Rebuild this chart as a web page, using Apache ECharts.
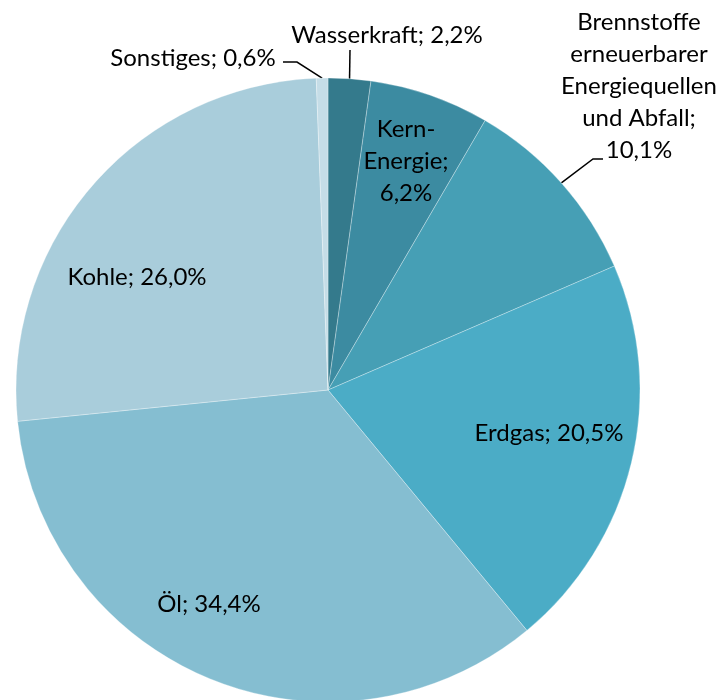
<!DOCTYPE html>
<html>
<head>
<meta charset="utf-8">
<script src="https://cdn.jsdelivr.net/npm/echarts@6/dist/echarts.min.js"></script>
<style>html,body{margin:0;padding:0;background:#fff}#c{width:723px;height:700px}</style>
</head>
<body>
<div id="c"></div>
<script>
const categories = ['Wasserkraft', 'Kern-Energie', 'Brennstoffe erneuerbarer Energiequellen und Abfall', 'Erdgas', 'Öl', 'Kohle', 'Sonstiges'];
const values = [2.2, 6.2, 10.1, 20.5, 34.4, 26.0, 0.6];
const labelTexts = [
  'Wasserkraft; 2,2%',
  'Kern-\nEnergie;\n6,2%',
  'Brennstoffe\nerneuerbarer\nEnergiequellen\nund Abfall;\n10,1%',
  'Erdgas; 20,5%',
  'Öl; 34,4%',
  'Kohle; 26,0%',
  'Sonstiges; 0,6%'
];
const colors = ['#347A8C', '#3C8BA1', '#469FB5', '#4BACC6', '#85BED1', '#A9CDDB', '#C5DDE7'];

// label layout (text placement only)
const labelLayoutCfg = [
  {x: 387, y: 35, outside: true, line: [[350, 50]]},
  {x: 406, y: 161},
  {x: 639, y: 86, outside: true, line: [[593, 159], [603, 159]]},
  {x: 549, y: 433},
  {x: 209, y: 604},
  {x: 137, y: 277},
  {x: 193, y: 58, outside: true, line: [[297, 62], [283, 62]]}
];

const chart = echarts.init(document.getElementById('c'), null, {renderer: 'canvas'});
chart.setOption({
  animation: false,
  series: [{
    type: 'pie',
    center: [328, 390],
    radius: 312,
    startAngle: 90,
    clockwise: true,
    avoidLabelOverlap: false,
    itemStyle: {borderColor: 'rgba(255,255,255,0.6)', borderWidth: 0.5},
    label: {
      show: true,
      position: 'outside',
      color: '#000',
      fontFamily: 'Lato',
      fontSize: 24,
      lineHeight: 32,
      align: 'center',
      formatter: p => labelTexts[p.dataIndex]
    },
    labelLine: {show: true, length: 20, length2: 10, smooth: false, lineStyle: {color: '#000', width: 1.5}},
    labelLayout: function (params) {
      const c = labelLayoutCfg[params.dataIndex];
      const res = {x: c.x, y: c.y, align: 'center', verticalAlign: 'middle'};
      if (c.outside && params.labelLinePoints) {
        const p0 = params.labelLinePoints[0];
        res.labelLinePoints = [p0].concat(c.line.length === 1 ? [c.line[0], c.line[0]] : c.line);
      }
      return res;
    },
    data: categories.map((n, i) => ({
      name: n,
      value: values[i],
      itemStyle: {color: colors[i]},
      labelLine: {show: !!labelLayoutCfg[i].outside}
    }))
  }]
});
</script>
</body>
</html>
